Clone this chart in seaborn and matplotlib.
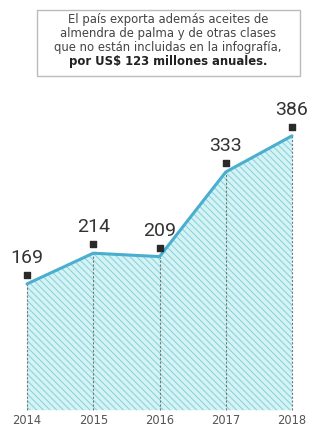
import matplotlib
matplotlib.use("Agg")
import matplotlib.pyplot as plt
import seaborn as sns
import pandas as pd
from matplotlib.patches import Rectangle
import matplotlib.transforms as mtrans

years = [2014, 2015, 2016, 2017, 2018]
values = [169, 214, 209, 333, 386]
labels = ["169", "214", "209", "333", "386"]
note_lines = ["El país exporta además aceites de",
              "almendra de palma y de otras clases",
              "que no están incluidas en la infografía,"]
note_bold = "por US$ 123 millones anuales."

sns.set_theme(style="white")
plt.rcParams['font.family'] = ['DejaVu Sans']
plt.rcParams['hatch.linewidth'] = 0.7

df = pd.DataFrame({"year": years, "value": values})

fig = plt.figure(figsize=(3.16, 4.32), dpi=100)
ax = fig.add_axes([0, 0, 1, 1])
ax.set_xlim(2013.592, 2018.362)
ax.set_ylim(-48, 585)
ax.axis("off")

base = -16
ax.fill_between(df["year"], df["value"], base, facecolor="#d3f3f5",
                edgecolor="#88cfd9", hatch="\\\\\\\\\\", linewidth=0, zorder=1)
for x, v in zip(years, values):
    ax.plot([x, x], [base, v], color="#777777", lw=0.8, ls=(0, (2, 1.5)), zorder=2)
sns.lineplot(data=df, x="year", y="value", ax=ax, color="#4aafcf", lw=2.2, zorder=3)

off = mtrans.offset_copy(ax.transData, fig=fig, x=0, y=9, units="dots")
ax.scatter(years, values, marker="s", s=22, color="#2a2a2a", transform=off, zorder=4)
off2 = mtrans.offset_copy(ax.transData, fig=fig, x=0, y=17, units="dots")
for x, v, t in zip(years, values, labels):
    ax.text(x, v, t, transform=off2, ha="center", va="bottom", fontsize=14,
            color="#333333", family=["Roboto", "DejaVu Sans"])
for x in years:
    ax.text(x, base, str(x), transform=mtrans.offset_copy(ax.transData, fig=fig, x=0, y=-4, units="dots"),
            ha="center", va="top", fontsize=8.3, color="#555555")

fig.patches.append(Rectangle((37/316, 1 - 76/432), 263/316, 66/432, transform=fig.transFigure,
                             facecolor="white", edgecolor="#bbbbbb", lw=1.0))
ys = [19, 33, 47]
for y, t in zip(ys, note_lines):
    fig.text(168/316, 1 - y/432, t, ha="center", va="center", fontsize=8.4, color="#444444")
fig.text(168/316, 1 - 61/432, note_bold, ha="center", va="center", fontsize=8.4,
         color="#222222", fontweight="bold")

fig.savefig("out.png", dpi=100)
